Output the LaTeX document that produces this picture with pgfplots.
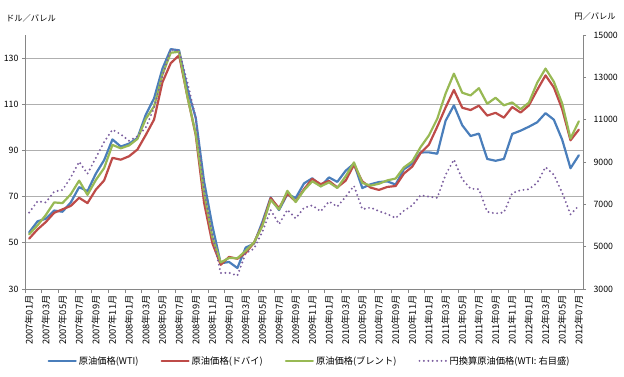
\documentclass[border=0pt]{standalone}
\usepackage{pgfplots}
\pgfplotsset{compat=1.18}
\usepackage{fontspec}
\setmainfont{Noto Sans CJK JP}

\definecolor{wti}{RGB}{74,126,187}
\definecolor{dubai}{RGB}{190,75,72}
\definecolor{brent}{RGB}{152,185,84}
\definecolor{yen}{RGB}{125,96,160}
\definecolor{gridc}{RGB}{175,175,175}
\definecolor{axc}{RGB}{134,134,134}

\pgfplotsset{
  base/.style={
    scale only axis, width=558bp, height=254bp,
    xmin=-0.5, xmax=66.5,
    tick align=outside,
    axis line style={axc, line width=0.8bp},
    tick style={axc, line width=0.8bp},
    major tick length=3bp,
    scaled y ticks=false,
    /pgf/number format/assume math mode=true,
    yticklabel style={font=\fontsize{8.8}{9}\selectfont},
  },
  series/.style={line width=2.2bp, line join=round, line cap=round},
}

\begin{document}
\begin{tikzpicture}
% primary axis: US dollar prices per barrel
\begin{axis}[base, name=main,
  ymin=30, ymax=140, ytick={30,50,...,130},
  axis y line*=left, axis x line*=bottom,
  ymajorgrids, grid style={gridc, line width=0.8bp},
  xtick={0,2,...,66},
  xticklabels={2007年01月,2007年03月,2007年05月,2007年07月,2007年09月,2007年11月,
    2008年01月,2008年03月,2008年05月,2008年07月,2008年09月,2008年11月,
    2009年01月,2009年03月,2009年05月,2009年07月,2009年09月,2009年11月,
    2010年01月,2010年03月,2010年05月,2010年07月,2010年09月,2010年11月,
    2011年01月,2011年03月,2011年05月,2011年07月,2011年09月,2011年11月,
    2012年01月,2012年03月,2012年05月,2012年07月},
  major x tick style={draw=none},
  minor xtick={-0.5,1.5,...,65.5},
  minor tick length=4bp,
  x tick label style={rotate=90, anchor=east, font=\fontsize{9.3}{9}\selectfont},
]
% WTI
\addplot[series, wti] coordinates {
(0,54.51)(1,59.28)(2,60.44)(3,63.98)(4,63.46)(5,67.49)(6,74.12)(7,72.36)(8,79.92)(9,85.80)(10,94.77)(11,91.69)
(12,92.97)(13,95.39)(14,105.45)(15,112.58)(16,125.40)(17,133.88)(18,133.37)(19,116.67)(20,104.11)(21,76.61)(22,57.31)(23,41.12)
(24,41.71)(25,39.09)(26,47.94)(27,49.65)(28,59.03)(29,69.64)(30,64.15)(31,71.05)(32,69.41)(33,75.72)(34,77.99)(35,74.47)
(36,78.33)(37,76.39)(38,81.20)(39,84.29)(40,73.74)(41,75.34)(42,76.32)(43,76.60)(44,75.24)(45,81.89)(46,84.25)(47,89.15)
(48,89.17)(49,88.58)(50,102.86)(51,109.53)(52,100.90)(53,96.26)(54,97.30)(55,86.33)(56,85.52)(57,86.32)(58,97.16)(59,98.56)
(60,100.27)(61,102.20)(62,106.16)(63,103.32)(64,94.66)(65,82.30)(66,87.90)};
% Dubai
\addplot[series, dubai] coordinates {
(0,51.8)(1,55.8)(2,59.0)(3,63.0)(4,64.5)(5,66.0)(6,69.5)(7,67.2)(8,73.0)(9,77.0)(10,86.8)(11,86.0)
(12,87.5)(13,90.4)(14,96.7)(15,103.4)(16,119.5)(17,127.8)(18,131.2)(19,113.4)(20,96.7)(21,67.4)(22,49.8)(23,40.5)
(24,43.9)(25,43.1)(26,45.6)(27,50.1)(28,57.8)(29,69.4)(30,65.0)(31,71.3)(32,67.9)(33,73.2)(34,77.7)(35,75.4)
(36,76.8)(37,74.0)(38,76.9)(39,83.8)(40,76.6)(41,73.9)(42,72.9)(43,74.2)(44,74.6)(45,80.0)(46,83.0)(47,88.9)
(48,92.5)(49,100.3)(50,108.6)(51,116.2)(52,108.5)(53,107.5)(54,109.4)(55,105.1)(56,106.3)(57,104.2)(58,108.8)(59,106.4)
(60,109.5)(61,116.2)(62,122.5)(63,117.3)(64,107.9)(65,94.4)(66,99.0)};
% Brent
\addplot[series, brent] coordinates {
(0,53.68)(1,57.56)(2,62.05)(3,67.49)(4,67.21)(5,71.05)(6,76.93)(7,70.76)(8,77.17)(9,82.34)(10,92.41)(11,90.93)
(12,92.18)(13,94.99)(14,103.64)(15,109.07)(16,122.80)(17,132.32)(18,132.72)(19,113.24)(20,97.23)(21,71.58)(22,52.45)(23,41.5)
(24,43.44)(25,43.32)(26,46.54)(27,50.18)(28,57.30)(29,68.61)(30,64.44)(31,72.51)(32,67.65)(33,72.77)(34,76.66)(35,74.46)
(36,76.17)(37,73.75)(38,78.83)(39,84.82)(40,75.95)(41,74.76)(42,75.58)(43,77.04)(44,77.84)(45,82.67)(46,85.28)(47,91.45)
(48,96.52)(49,103.72)(50,114.64)(51,123.26)(52,114.99)(53,113.83)(54,116.97)(55,110.22)(56,112.83)(57,109.55)(58,110.77)(59,107.87)
(60,110.69)(61,119.33)(62,125.45)(63,119.75)(64,110.34)(65,95.16)(66,102.62)};
\end{axis}

% secondary axis: WTI converted to yen per barrel
\begin{axis}[base,
  ymin=3000, ymax=15000, ytick={3000,5000,...,15000},
  axis y line*=right, axis x line=none,
  yticklabel style={/pgf/number format/1000 sep={}, xshift=4bp},
  legend style={at={(0.51,-0.283)}, anchor=center, draw=none, fill=none,
    font=\fontsize{9.3}{10}\selectfont, legend columns=4,
    /tikz/every even column/.append style={column sep=20bp}},
  legend image code/.code={\draw[#1] (0bp,0bp) -- (27bp,0bp);},
]
\addlegendimage{series, wti}
\addlegendentry{原油価格(WTI)}
\addlegendimage{series, dubai}
\addlegendentry{原油価格(ドバイ)}
\addlegendimage{series, brent}
\addlegendentry{原油価格(ブレント)}
\addplot[series, yen, dash pattern=on 0bp off 4.4bp] coordinates {
(0,6611)(1,7143)(2,7090)(3,7601)(4,7679)(5,8274)(6,9013)(7,8444)(8,9191)(9,9944)(10,10529)(11,10306)
(12,10004)(13,10216)(14,10629)(15,11551)(16,13054)(17,14312)(18,14257)(19,12764)(20,11098)(21,7669)(22,5553)(23,3754)
(24,3766)(25,3632)(26,4693)(27,4905)(28,5702)(29,6727)(30,6062)(31,6743)(32,6337)(33,6838)(34,6949)(35,6665)
(36,7136)(37,6890)(38,7357)(39,7873)(40,6769)(41,6848)(42,6678)(43,6542)(44,6350)(45,6699)(46,6951)(47,7426)
(48,7365)(49,7308)(50,8393)(51,9113)(52,8183)(53,7739)(54,7716)(55,6647)(56,6568)(57,6621)(58,7530)(59,7668)
(60,7711)(61,8023)(62,8758)(63,8400)(64,7545)(65,6526)(66,6935)};
\addlegendentry{円換算原油価格(WTI: 右目盛)}
\end{axis}

\node[font=\fontsize{8.3}{8}\selectfont] at ([xshift=6bp, yshift=17bp]main.north west) {ドル／バレル};
\node[font=\fontsize{8.3}{8}\selectfont] at ([xshift=12bp, yshift=19bp]main.north east) {円／バレル};

\pgfresetboundingbox
\path[use as bounding box] ([xshift=-25bp, yshift=-88bp]main.south west) rectangle ([xshift=41bp, yshift=35bp]main.north east);
\end{tikzpicture}
\end{document}
